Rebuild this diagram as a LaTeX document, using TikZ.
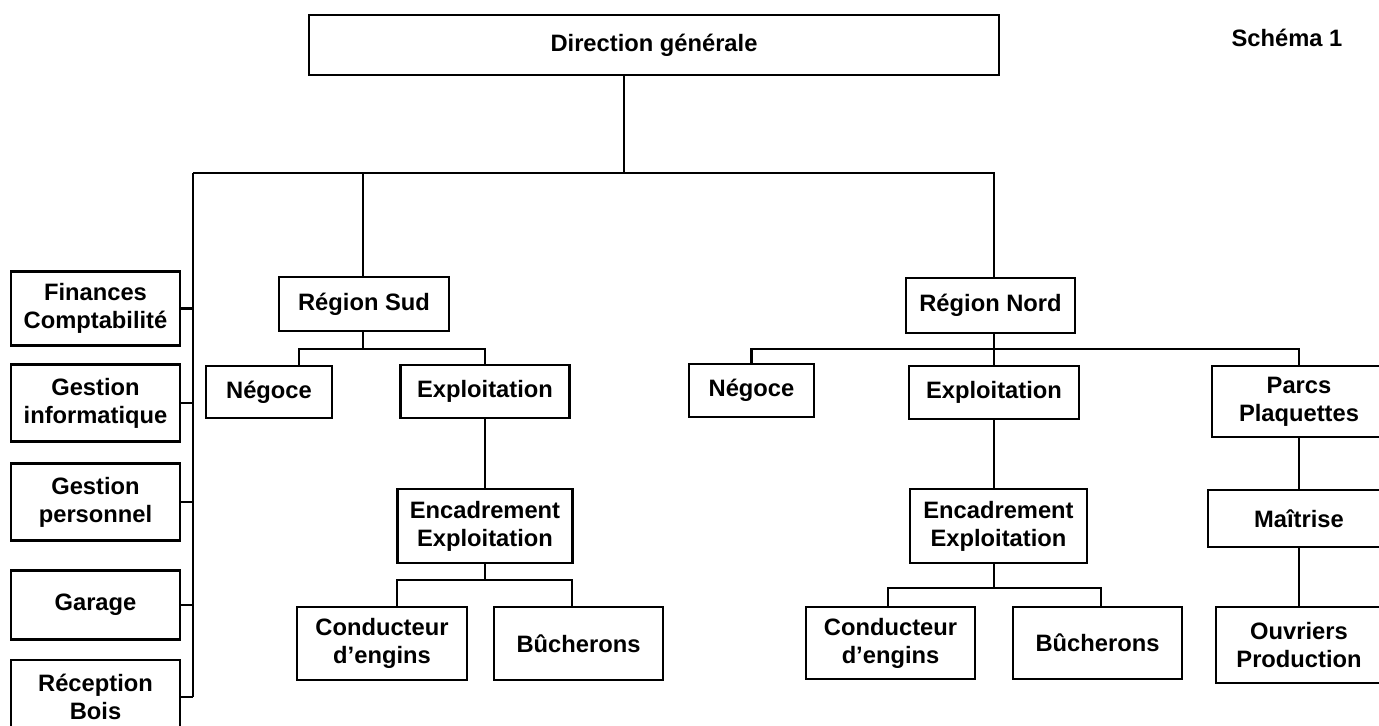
\documentclass[tikz,border=0pt]{standalone}
\usepackage{fontspec}
\setmainfont{Liberation Sans}

\begin{document}
\begin{tikzpicture}[x=0.02cm, y=-0.02cm,
    box/.style={draw, line width=1.6pt, align=center, inner sep=0pt,
                font=\bfseries\fontsize{13.5}{16}\selectfont},
    link/.style={line width=1.4pt}]

    % Page size and clipping of the cut boxes
    \useasboundingbox (0,0) rectangle (1379,726);
    \clip (0,0) rectangle (1379,726);

    % Top of the chart
    \node[box, minimum width=13.8cm, minimum height=1.2cm] (dg) at (654,45) {Direction générale};
    \node[font=\bfseries\fontsize{13.5}{16}\selectfont] (schema) at (1287,38) {Schéma 1};

    % Staff services on the left
    \node[box, minimum width=3.38cm, minimum height=1.48cm] (fin) at (95.5,308.5) {Finances\\Comptabilité};
    \node[box, minimum width=3.38cm, minimum height=1.54cm] (info) at (95.5,403) {Gestion\\informatique};
    \node[box, minimum width=3.38cm, minimum height=1.54cm] (pers) at (95.5,502) {Gestion\\personnel};
    \node[box, minimum width=3.38cm, minimum height=1.38cm] (gar) at (95.5,605) {Garage};
    \node[box, minimum width=3.38cm, minimum height=1.48cm] (rec) at (95.5,697) {Réception\\Bois};

    % Region Sud
    \node[box, minimum width=3.4cm, minimum height=1.08cm] (sud) at (364,304) {Région Sud};
    \node[box, minimum width=2.52cm, minimum height=1.04cm] (negS) at (269,392) {Négoce};
    \node[box, minimum width=3.38cm, minimum height=1.06cm] (expS) at (485,391.5) {Exploitation};
    \node[box, minimum width=3.5cm, minimum height=1.48cm] (encS) at (485,526) {Encadrement\\Exploitation};
    \node[box, minimum width=3.4cm, minimum height=1.46cm] (conS) at (382,643.5) {Conducteur\\d’engins};
    \node[box, minimum width=3.38cm, minimum height=1.46cm] (bucS) at (578.5,643.5) {Bûcherons};

    % Region Nord
    \node[box, minimum width=3.38cm, minimum height=1.1cm] (nord) at (990.5,305.5) {Région Nord};
    \node[box, minimum width=2.5cm, minimum height=1.06cm] (negN) at (751.5,390.5) {Négoce};
    \node[box, minimum width=3.4cm, minimum height=1.06cm] (expN) at (994,392.5) {Exploitation};
    \node[box, minimum width=3.48cm, minimum height=1.42cm] (parcs) at (1299,401.5) {Parcs\\Plaquettes};
    \node[box, minimum width=3.54cm, minimum height=1.48cm] (encN) at (998.5,526) {Encadrement\\Exploitation};
    \node[box, minimum width=3.64cm, minimum height=1.14cm] (maitr) at (1299,518.5) {Maîtrise};
    \node[box, minimum width=3.38cm, minimum height=1.44cm] (conN) at (890.5,643) {Conducteur\\d’engins};
    \node[box, minimum width=3.38cm, minimum height=1.44cm] (bucN) at (1097.5,643) {Bûcherons};
    \node[box, minimum width=3.32cm, minimum height=1.52cm] (ouvr) at (1299,645) {Ouvriers\\Production};

    % Junctions of the connectors
    \coordinate (jtop) at (624,173);
    \coordinate (jleft) at (193,173);
    \coordinate (jsud) at (363,173);
    \coordinate (jnord) at (994,173);
    \coordinate (jstaff) at (193,697);
    \coordinate (bnegS) at (299,349);
    \coordinate (bexpS) at (485,349);
    \coordinate (bconS) at (397,580);
    \coordinate (bbucS) at (572,580);
    \coordinate (bparcs) at (1299,349);
    \coordinate (bconN) at (888,588);
    \coordinate (bbucN) at (1101,588);

    % Main bus
    \draw[link] (dg.south -| jtop) -- (jtop);
    \draw[link] (jleft) -- (jnord) -- (jnord |- nord.north);
    \draw[link] (jsud) -- (jsud |- sud.north);

    % Staff column
    \draw[link] (jleft) -- (jstaff);
    \foreach \n in {fin, info, pers, gar, rec}
        \draw[link] (\n.east) -- (\n.east -| jleft);

    % Sud branches
    \draw[link] (sud.south -| jsud) -- (jsud |- bnegS);
    \draw[link] (bnegS |- negS.north) -- (bnegS) -- (bexpS) -- (bexpS |- expS.north);
    \draw[link] (expS.south) -- (encS.north);
    \draw[link] (encS.south) -- (encS.south |- bconS);
    \draw[link] (bconS |- conS.north) -- (bconS) -- (bbucS) -- (bbucS |- bucS.north);

    % Nord branches
    \draw[link] (nord.south -| jnord) -- (expN.north -| jnord);
    \draw[link] (negN.north) |- (bparcs) -- (parcs.north);
    \draw[link] (expN.south) -- (expN.south |- encN.north);
    \draw[link] (encN.south -| jnord) -- (bconN -| jnord);
    \draw[link] (bconN |- conN.north) -- (bconN) -- (bbucN) -- (bbucN |- bucN.north);
    \draw[link] (parcs) -- (maitr);
    \draw[link] (maitr) -- (ouvr);

\end{tikzpicture}
\end{document}
